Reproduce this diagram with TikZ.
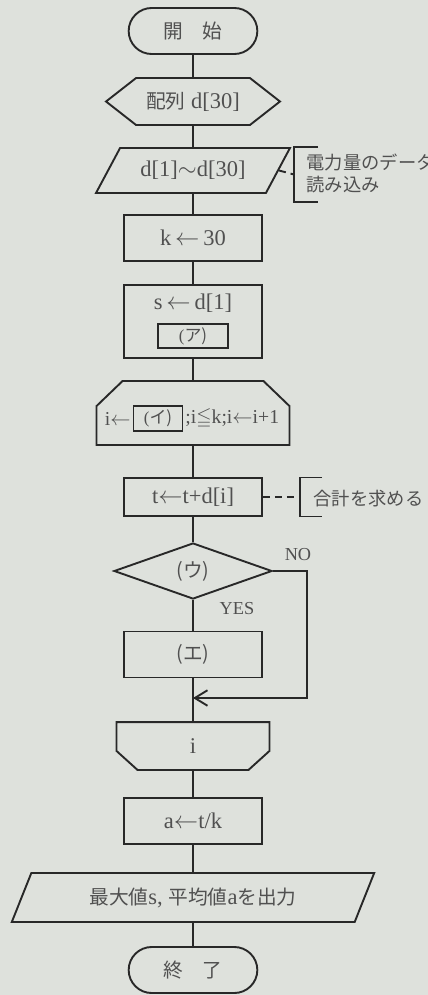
\documentclass[tikz,border=0pt]{standalone}
\usepackage{amssymb}
\usepackage{fontspec}
\setmainfont{Liberation Serif}
\newfontfamily\jp{Noto Sans CJK JP}
\newcommand\jtext[1]{{\jp\fontsize{14}{16}\selectfont #1}}
\usetikzlibrary{shapes.geometric,shapes.misc,arrows.meta,positioning,calc}
\definecolor{paper}{RGB}{222,225,220}
\definecolor{ink}{RGB}{40,40,40}
\definecolor{txt}{RGB}{80,80,80}

\begin{document}
\begin{tikzpicture}[x=0.025cm,y=0.025cm,line width=1.35pt,draw=ink,
  every node/.style={text=txt,font=\fontsize{16}{18}\selectfont},
  term/.style={draw=ink,rounded rectangle,minimum width=3.45cm,minimum height=1.15cm},
  proc/.style={draw=ink,rectangle,minimum width=3.45cm,minimum height=1.15cm},
  io/.style={draw=ink,trapezium,trapezium stretches=true,minimum height=1.125cm},
  blank/.style={draw=ink,line width=0.8pt,rectangle,inner sep=0pt,font=\fontsize{12}{13}\selectfont},
  note/.style={anchor=west,align=left,font=\jp\fontsize{13}{15.6}\selectfont},
  lbl/.style={font=\fontsize{13}{15}\selectfont}]
\useasboundingbox[fill=paper] (0,0) rectangle (428,-995);

\node[term] (start) at (193,-31) {\jtext{開\hspace{1em}始}};
\node[minimum width=4.3cm,minimum height=1.125cm] (arr) at (193,-101.5) {\jtext{配列} d[30]};
\draw (arr.west) -- ($(arr.north west)+(30,0)$) -- ($(arr.north east)+(-30,0)$) -- (arr.east)
  -- ($(arr.south east)+(-30,0)$) -- ($(arr.south west)+(30,0)$) -- cycle;
\node[io,trapezium left angle=56,trapezium right angle=124,minimum width=4.85cm] (in) at (193,-170.5) {d[1]$\sim$d[30]};
\node[proc] (k) at (193,-238) {k\,$\leftarrow$\,30};
\node[proc,minimum height=1.825cm] (s) at (193,-321.5) {};
\node (s1) at (193,-303) {s\,$\leftarrow$\,d[1]};
\node[blank,minimum width=1.75cm,minimum height=0.6cm] (ka) at (193,-336) {(\jp ア)};

% loop start
\node[minimum width=4.775cm,minimum height=1.55cm] (lps) at (193,-413) {};
\draw ($(lps.north west)+(26,0)$) -- ($(lps.north east)+(-26,0)$) -- ($(lps.north east)+(0,-25)$)
  -- (lps.south east) -- (lps.south west) -- ($(lps.north west)+(0,-25)$) -- cycle;
\node[blank,minimum width=1.225cm,minimum height=0.625cm] (ki) at (158,-418.5) {(\jp イ)};
\node[inner sep=0pt,left=1pt of ki,font=\fontsize{14}{16}\selectfont] (lp1) {i$\leftarrow$};
\node[inner sep=0pt,right=1pt of ki,font=\fontsize{14}{16}\selectfont] (lp2) {;i$\leqq$k;i$\leftarrow$i+1};

\node[proc,minimum height=0.95cm] (t) at (193,-497) {t$\leftarrow$t+d[i]};
\node[draw=ink,diamond,aspect=2.8,minimum width=3.95cm,minimum height=1.4cm] (cond) at (193,-571) {\jtext{(ウ)}};
\node[proc] (e) at (193,-654.5) {\jtext{(エ)}};
\coordinate (mrg) at (193,-698);

% loop end
\node[minimum width=3.775cm,minimum height=1.15cm] (lpe) at (193,-746) {i};
\draw (lpe.north west) -- (lpe.north east) -- ($(lpe.south east)+(0,19)$) -- ($(lpe.south east)+(-21,0)$)
  -- ($(lpe.south west)+(21,0)$) -- ($(lpe.south west)+(0,19)$) -- cycle;

\node[proc] (avg) at (193,-821) {a$\leftarrow$t/k};
\node[io,trapezium left angle=66,trapezium right angle=114,minimum width=9.075cm,minimum height=1.225cm] (out) at (193,-897.5)
  {\jtext{最大値}s, \jtext{平均値}a\jtext{を出力}};
\node[term] (stop) at (193,-970) {\jtext{終\hspace{1em}了}};

\draw (start) -- (arr);
\draw (arr) -- (in);
\draw (in) -- (k);
\draw (k) -- (s);
\draw (s) -- (lps);
\draw (lps) -- (t);
\draw (t) -- (cond);
\draw (cond) -- (e);
\draw (e) -- (lpe);
\draw (lpe) -- (avg);
\draw (avg) -- (out);
\draw (out) -- (stop);
\draw[-{Straight Barb[length=9pt,width=11pt]}] (cond.east) -- ++(34,0) |- (mrg);
\node[lbl] (no) at (298,-555) {NO};
\node[lbl] (yes) at (237,-609) {YES};

% comments
\coordinate (br1) at (294,-174.5);
\draw[dash pattern=on 5pt off 3.5pt] (in.east) -- (br1);
\draw (br1) ++(24,27.5) -- ++(-24,0) -- ++(0,-55) -- ++(24,0);
\node[note] (n1) at (301,-173) {電力量のデータ\\読み込み};
\coordinate (br2) at (300,-497);
\draw[dash pattern=on 5pt off 3.5pt] (t.east) -- (br2);
\draw (br2) ++(22,19.5) -- ++(-22,0) -- ++(0,-39) -- ++(22,0);
\node[note] (n2) at (308,-499) {合計を求める};
\end{tikzpicture}
\end{document}
